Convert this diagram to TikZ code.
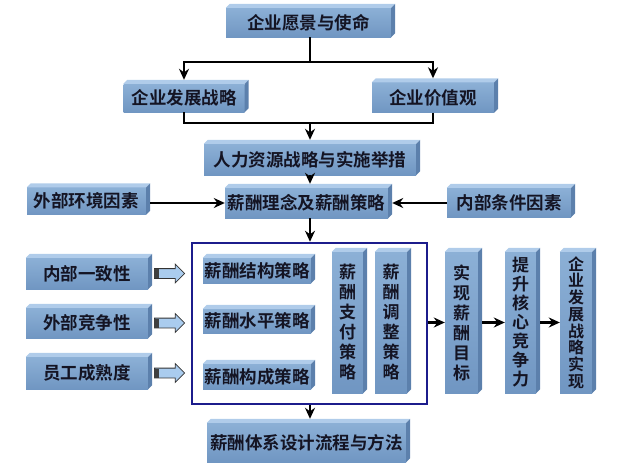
\documentclass[tikz,border=0pt]{standalone}
\usepackage{fontspec}
\setmainfont{Noto Sans CJK SC}[BoldFont={Noto Sans CJK SC Bold}]
\usetikzlibrary{arrows.meta, positioning, shapes.arrows}
\definecolor{facehi}{RGB}{140,176,214}
\definecolor{facelo}{RGB}{112,150,194}
\definecolor{bevtop}{RGB}{176,204,234}
\definecolor{bevside}{RGB}{92,128,172}
\definecolor{inktxt}{RGB}{20,20,35}
\definecolor{framec}{RGB}{28,28,140}
\definecolor{blockc}{RGB}{170,204,238}

\begin{document}
\begin{tikzpicture}[x=1pt, y=-1pt]
	\tikzset {>={Stealth[length=11pt,width=10pt]}, line/.style={line width=2.4pt},
		box/.style={rectangle, top color=facehi, bottom color=facelo, inner sep=0pt, text=inktxt, font=\bfseries\fontsize{17.5}{20}\selectfont},
		sz/.style 2 args={minimum width=#1pt, minimum height=#2pt},
		vbox/.style={box, align=center, font=\bfseries\fontsize{17}{20}\selectfont},
		frame/.style={draw=framec, line width=2.5pt},
		blk/.style={single arrow, draw=black!80, fill=blockc, line width=0.8pt, inner xsep=0pt, inner ysep=4.5pt, single arrow head extend=4.5pt, minimum height=30pt} }
	\useasboundingbox (0,0) rectangle (632,472);

	% top part
	\node[box, sz={165}{29}] (vision) at (308.5,22.5) {企业愿景与使命};
	\node[box, sz={121}{28}] (strat) at (184,98) {企业发展战略};
	\node[box, sz={122}{30}] (value) at (433,97.5) {企业价值观};
	\node[box, sz={212}{31}] (hr) at (310,159.5) {人力资源战略与实施举措};
	\node[box, sz={163}{30}] (idea) at (306.5,203) {薪酬理念及薪酬策略};
	\node[box, sz={119}{27}] (ext) at (86.5,201) {外部环境因素};
	\node[box, sz={124}{29}] (int) at (509,202.5) {内部条件因素};

	% left factors
	\node[box, sz={122}{31}] (inner) at (87,273.5) {内部一致性};
	\node[box, sz={122}{30}] (outer) at (87,323) {外部竞争性};
	\node[box, sz={122}{32}] (staff) at (87,373) {员工成熟度};
	\node[blk, right=6pt of inner] (a1) {};
	\node[blk, right=6pt of outer] (a2) {};
	\node[blk, right=6pt of staff] (a3) {};

	% frame
	\node[frame, sz={235}{161}] (frame) at (309.5,323.5) {};
	\node[box, sz={108}{25}] (struct) at (257,270.5) {薪酬结构策略};
	\node[box, sz={108}{24}] (level) at (257,321) {薪酬水平策略};
	\node[box, sz={108}{25}] (mix) at (257,376.5) {薪酬构成策略};
	\node[vbox, sz={31}{141}] (pay) at (347.5,322.5) {薪\\酬\\支\\付\\策\\略};
	\node[vbox, sz={32}{141}] (adj) at (391,322.5) {薪\\酬\\调\\整\\策\\略};

	% right column
	\node[vbox, sz={33}{141}] (goal) at (461.5,322.5) {实\\现\\薪\\酬\\目\\标};
	\node[vbox, sz={31}{141}, font=\bfseries\fontsize{17}{19}\selectfont] (core) at (520.5,322.5) {提\\升\\核\\心\\竞\\争\\力};
	\node[vbox, sz={32}{141}, font=\bfseries\fontsize{16}{16.75}\selectfont] (real) at (576,322.5) {企\\业\\发\\展\\战\\略\\实\\现};

	\node[box, sz={199}{39}] (sys) at (306.5,442.5) {薪酬体系设计流程与方法};

	% bevels
	\foreach \n in {vision,strat,value,hr,idea,ext,int,inner,outer,staff,struct,level,mix,pay,adj,goal,core,real,sys} {
		\fill[bevtop] (\n.north west) -- ++(4pt,4pt) -- ([shift={(4pt,4pt)}]\n.north east) -- (\n.north east) -- cycle;
		\fill[bevside] (\n.north east) -- ++(4pt,4pt) -- ([shift={(4pt,4pt)}]\n.south east) -- (\n.south east) -- cycle;
	}
	\foreach \a in {a1,a2,a3}
		\fill[black!75] ([yshift=-4.5pt]\a.tail) rectangle ([xshift=5pt,yshift=4.5pt]\a.tail);

	% connectors
	\coordinate (split) at (310,62);
	\coordinate (merge) at (310,123);
	\draw[line] (split |- vision.south) -- (split);
	\draw[line,->] (split) -| ([yshift=4pt]strat.north);
	\draw[line,->] (split) -| ([yshift=4pt]value.north);
	\draw[line] (strat.south) |- (merge);
	\draw[line] (value.south) |- (merge);
	\draw[line,->] (merge) -- ([yshift=4pt]hr.north -| merge);
	\draw[line,->] (hr.south -| merge) -- ([yshift=4pt]idea.north -| merge);
	\draw[line,->] ([xshift=4pt]ext.east |- idea.west) -- (idea.west);
	\draw[line,->] (int.west |- idea.east) -- ([xshift=4pt]idea.east);
	\draw[line,->] (idea.south -| merge) -- (frame.north -| merge);
	\draw[line,->] (frame.south -| merge) -- ([yshift=4pt]sys.north -| merge);
	\draw[line,->] (frame.east |- goal.west) -- (goal.west);
	\draw[line,->] ([xshift=4pt]goal.east) -- (core.west);
	\draw[line,->] ([xshift=4pt]core.east) -- (real.west);
\end{tikzpicture}
\end{document}
